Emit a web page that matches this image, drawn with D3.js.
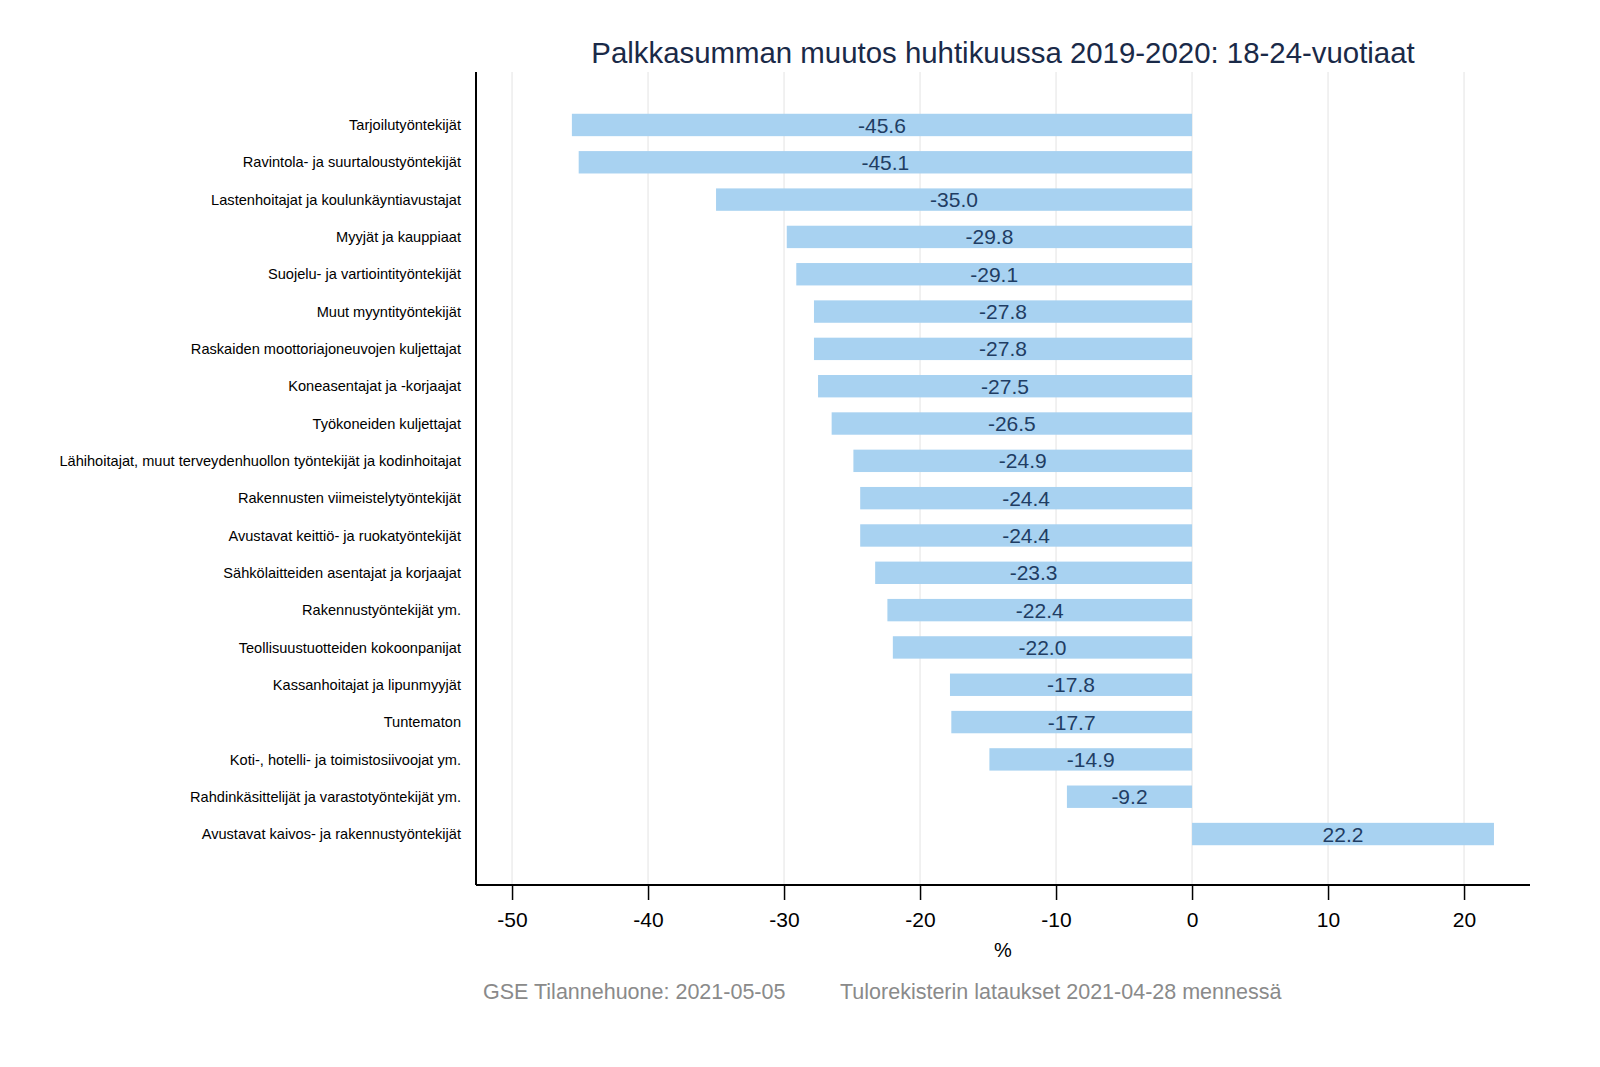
<!DOCTYPE html>
<html><head><meta charset="utf-8">
<script src="https://cdn.jsdelivr.net/npm/d3@7"></script>
<style>body{margin:0;background:#fff}svg{display:block}text{font-family:"Liberation Sans",Arial,sans-serif}</style>
</head><body>
<script>
const categories = ["Tarjoilutyöntekijät","Ravintola- ja suurtaloustyöntekijät","Lastenhoitajat ja koulunkäyntiavustajat","Myyjät ja kauppiaat","Suojelu- ja vartiointityöntekijät","Muut myyntityöntekijät","Raskaiden moottoriajoneuvojen kuljettajat","Koneasentajat ja -korjaajat","Työkoneiden kuljettajat","Lähihoitajat, muut terveydenhuollon työntekijät ja kodinhoitajat","Rakennusten viimeistelytyöntekijät","Avustavat keittiö- ja ruokatyöntekijät","Sähkölaitteiden asentajat ja korjaajat","Rakennustyöntekijät ym.","Teollisuustuotteiden kokoonpanijat","Kassanhoitajat ja lipunmyyjät","Tuntematon","Koti-, hotelli- ja toimistosiivoojat ym.","Rahdinkäsittelijät ja varastotyöntekijät ym.","Avustavat kaivos- ja rakennustyöntekijät"];
const values = [-45.6,-45.1,-35.0,-29.8,-29.1,-27.8,-27.8,-27.5,-26.5,-24.9,-24.4,-24.4,-23.3,-22.4,-22.0,-17.8,-17.7,-14.9,-9.2,22.2];
const xTicks = [-50,-40,-30,-20,-10,0,10,20];
const title = "Palkkasumman muutos huhtikuussa 2019-2020: 18-24-vuotiaat";
const xLabel = "%";
const footer1 = "GSE Tilannehuone: 2021-05-05";
const footer2 = "Tulorekisterin lataukset 2021-04-28 mennessä";

const W=1600,H=1067;
const L=476,R=1530,T=72,B=885;
const svg=d3.select("body").append("svg").attr("width",W).attr("height",H);
const x=d3.scaleLinear().domain([-52.65,24.85]).range([L,R]);
const y=d3.scaleBand().domain(categories).range([106.3,852.7]).paddingInner(0.4).paddingOuter(0.2);

// gridlines
svg.append("g").selectAll("line").data(xTicks).join("line")
  .attr("x1",d=>x(d)).attr("x2",d=>x(d)).attr("y1",T).attr("y2",B)
  .attr("stroke","#e3e3e3").attr("stroke-width",1);

// bars
const data=categories.map((c,i)=>({c,v:values[i]}));
svg.append("g").selectAll("rect").data(data).join("rect")
  .attr("x",d=>x(Math.min(0,d.v))).attr("width",d=>Math.abs(x(d.v)-x(0)))
  .attr("y",d=>y(d.c)).attr("height",y.bandwidth())
  .attr("fill","#a8d2f1");
svg.append("g").selectAll("text").data(data).join("text")
  .attr("x",d=>(x(d.v)+x(0))/2).attr("y",d=>y(d.c)+y.bandwidth()/2)
  .attr("dy","0.36em").attr("text-anchor","middle")
  .attr("font-size",21).attr("fill","#1f3d63")
  .text(d=>d.v.toFixed(1));

// y labels
svg.append("g").selectAll("text").data(categories).join("text")
  .attr("x",461).attr("y",d=>y(d)+y.bandwidth()/2).attr("dy","0.35em")
  .attr("text-anchor","end").attr("font-size",14.6).attr("fill","#000").text(d=>d);

// x axis
const xa=svg.append("g").attr("transform",`translate(0,${B})`)
  .call(d3.axisBottom(x).tickValues(xTicks).tickSize(15).tickPadding(12).tickFormat(d=>String(d)));
xa.select(".domain").remove();
xa.selectAll(".tick line").attr("stroke","#000").attr("stroke-width",1.5);
xa.selectAll(".tick text").attr("font-size",21).attr("fill","#000").style("font-family","Liberation Sans, Arial, sans-serif");
svg.append("line").attr("x1",L).attr("x2",R).attr("y1",B).attr("y2",B).attr("stroke","#000").attr("stroke-width",2);
svg.append("line").attr("x1",L).attr("x2",L).attr("y1",T).attr("y2",B).attr("stroke","#000").attr("stroke-width",2);

svg.append("text").attr("x",(L+R)/2).attr("y",957).attr("text-anchor","middle").attr("font-size",20).attr("fill","#000").text(xLabel);
svg.append("text").attr("x",(L+R)/2).attr("y",63).attr("text-anchor","middle").attr("font-size",29.4).attr("fill","#1a2a48").text(title);
svg.append("text").attr("x",483).attr("y",999).attr("font-size",21.5).attr("fill","#8a8a8a").text(footer1);
svg.append("text").attr("x",840).attr("y",999).attr("font-size",21.5).attr("fill","#8a8a8a").text(footer2);
</script>
</body></html>
